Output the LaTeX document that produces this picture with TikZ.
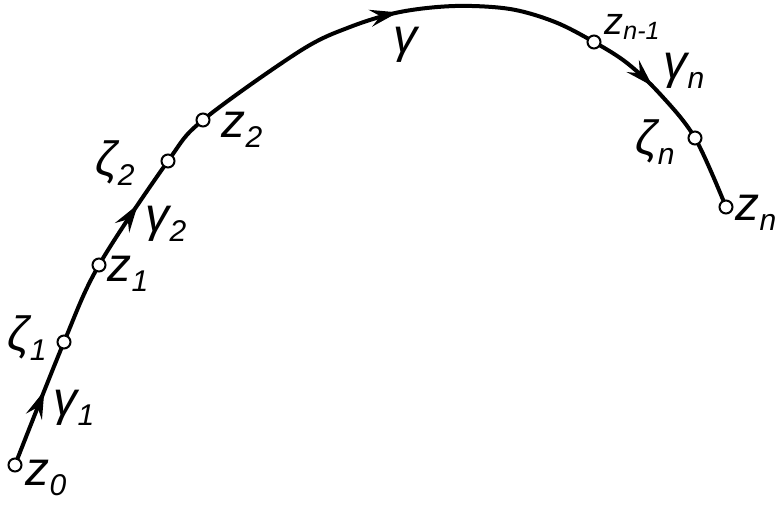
\documentclass[tikz,border=0pt]{standalone}
\usepackage{fontspec}
\newfontfamily\lblfont{Liberation Sans}
\usetikzlibrary{arrows.meta,decorations.markings}
\newcommand\lbl[2]{{\lblfont\fontsize{48}{48}\selectfont\itshape #1\raisebox{-0.4ex}{\fontsize{30}{30}\selectfont #2}}}
\newcommand\lbs[2]{{\lblfont\fontsize{38}{38}\selectfont\itshape #1\raisebox{-0.25ex}{\fontsize{25}{25}\selectfont #2}}}
\tikzset{
  curve/.style={line width=4pt, line cap=round, line join=round},
  pt/.style={circle, draw, fill=white, line width=2pt, minimum size=13pt, inner sep=0pt},
  lab/.style={inner sep=0pt},
  mytip/.tip={Stealth[length=28pt,width=17pt,inset=10pt]},
}
\begin{document}
\begin{tikzpicture}[x=1pt,y=-1pt]
\useasboundingbox (0,0) rectangle (780,504);
\coordinate (c0) at (15,465);
\coordinate (c1) at (64,342);
\coordinate (c2) at (99,265);
\coordinate (c3) at (168,161);
\coordinate (c4) at (203,120);
\coordinate (c6) at (300,51);
\coordinate (c7) at (350,27);
\coordinate (c8) at (400,12);
\coordinate (c9) at (455,6);
\coordinate (c10) at (510,9);
\coordinate (c11) at (555,22);
\coordinate (c12) at (594,42);
\coordinate (c13) at (627,63);
\coordinate (c14) at (660,94);
\coordinate (c15) at (695,138);
\coordinate (c16) at (726,207);
\draw[curve, postaction={decorate}, decoration={markings,
   mark=at position 80pt with {\arrow{mytip}},
   mark=at position 289pt with {\arrow{mytip}},
   mark=at position 621pt with {\arrow{mytip}},
   mark=at position 898pt with {\arrow{mytip}}}]
  plot[smooth, tension=0.55] coordinates {(c0) (c1) (c2) (c3) (c4) (c6) (c7) (c8) (c9) (c10) (c11) (c12) (c13) (c14) (c15) (c16)};
\node[pt] (z0) at (c0) {};
\node[pt] (zeta1) at (c1) {};
\node[pt] (z1) at (c2) {};
\node[pt] (zeta2) at (c3) {};
\node[pt] (z2) at (c4) {};
\node[pt] (zn1) at (c12) {};
\node[pt] (zetan) at (c15) {};
\node[pt] (zn) at (c16) {};
\node[lab] (lz0) at (46,478) {\lbl{z}{0}};
\node[lab] (lzeta1) at (27,338) {\lbl{ζ}{1}};
\node[lab] (lgamma1) at (74,408) {\lbl{γ}{1}};
\node[lab] (lz1) at (128,274) {\lbl{z}{1}};
\node[lab] (lzeta2) at (115,163) {\lbl{ζ}{2}};
\node[lab] (lgamma2) at (166,224) {\lbl{γ}{2}};
\node[lab] (lz2) at (242,130) {\lbl{z}{2}};
\node[lab] (lgamma) at (405,45) {\lbl{γ}{}};
\node[lab] (lzn1) at (632,27) {\lbs{z}{n-1}};
\node[lab] (lgamman) at (684,71) {\lbl{γ}{n}};
\node[lab] (lzetan) at (655,142) {\lbl{ζ}{n}};
\node[lab] (lzn) at (756,213) {\lbl{z}{n}};
\end{tikzpicture}
\end{document}
